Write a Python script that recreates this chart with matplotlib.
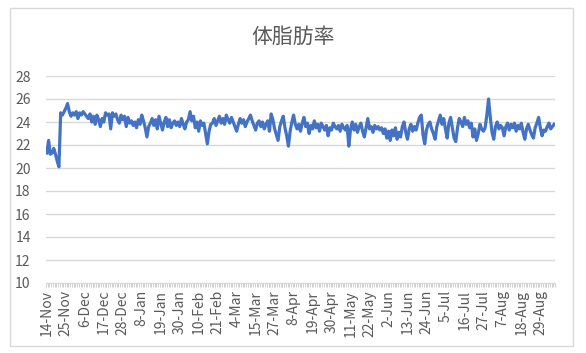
import numpy as np
import pandas as pd
import matplotlib
matplotlib.use('Agg')
from matplotlib import pyplot as plt
from matplotlib.patches import Rectangle
from matplotlib.ticker import FixedLocator

plt.rcParams['font.family'] = ['Noto Sans CJK JP', 'DejaVu Sans']

# body fat % per day
fat = [
    21.3, 22.4, 21.2, 21.3, 21.7, 21.2, 20.6, 20.1, 24.8, 24.6,
    24.9, 25.2, 25.6, 24.9, 24.5, 24.8, 24.6, 24.9, 24.3, 24.8,
    24.6, 24.9, 24.7, 24.5, 24.3, 24.7, 24.0, 24.5, 23.8, 24.6,
    24.2, 23.6, 24.3, 24.0, 24.8, 24.6, 24.7, 23.4, 24.8, 24.5,
    24.7, 24.2, 23.9, 24.6, 24.2, 24.5, 23.6, 24.4, 23.9, 24.1,
    23.7, 24.0, 23.5, 24.2, 23.8, 24.6, 24.1, 23.5, 22.7, 23.6,
    23.9, 24.3, 23.7, 24.2, 23.4, 24.5, 23.9, 23.3, 24.0, 24.4,
    23.6, 24.2, 23.5, 23.9, 24.1, 23.7, 24.0, 23.6, 24.3, 23.8,
    23.4, 24.0, 24.2, 24.9, 24.1, 24.5, 23.5, 24.0, 23.2, 24.1,
    23.7, 23.9, 23.0, 22.1, 23.2, 23.8, 23.9, 24.3, 23.7, 24.1,
    24.5, 23.9, 24.3, 23.8, 24.6, 24.2, 23.9, 24.4, 24.0, 23.6,
    23.2, 23.8, 24.3, 23.9, 24.2, 23.6, 24.0, 24.3, 24.6, 24.1,
    23.7, 23.3, 23.9, 24.1, 23.6, 24.0, 23.4, 23.8, 24.1, 23.2,
    24.7, 24.2, 23.4, 22.9, 22.4, 23.6, 24.1, 24.5, 23.5, 22.8,
    21.9, 23.2, 24.0, 24.6, 23.8, 23.4, 23.8, 23.2, 23.9, 24.4,
    23.6, 23.9, 23.0, 23.7, 23.4, 24.1, 23.5, 23.8, 23.2, 23.9,
    23.6, 23.3, 23.7, 22.8, 23.5, 23.3, 23.9, 23.6, 23.4, 23.7,
    23.2, 23.8, 23.5, 23.3, 23.7, 21.9, 23.4, 24.0, 23.3, 23.8,
    23.1, 23.6, 23.9, 23.2, 22.7, 23.5, 24.3, 23.4, 23.6, 23.1,
    23.7, 23.4, 23.6, 23.3, 23.5, 23.0, 23.4, 22.6, 23.2, 22.4,
    23.3, 22.8, 23.5, 22.5, 23.1, 22.7, 23.6, 24.0, 23.1, 22.5,
    23.4, 23.8, 23.2, 23.6, 23.3, 23.9, 24.4, 24.6, 22.9, 22.1,
    23.3, 23.8, 24.0, 23.4, 23.0, 22.5, 23.6, 24.1, 24.6, 23.8,
    24.3, 23.4, 22.6, 23.9, 24.4, 23.5, 22.6, 22.3, 23.5, 24.3,
    24.0, 23.6, 24.4, 23.8, 24.1, 23.5, 23.9, 22.7, 23.4, 22.4,
    23.0, 23.8, 23.4, 23.2, 23.5, 24.6, 26.0, 24.4, 23.1, 22.5,
    23.6, 24.0, 23.4, 23.7, 23.5, 22.8, 23.6, 23.9, 23.3, 23.8,
    23.5, 23.9, 23.2, 23.7, 23.4, 23.9, 23.1, 22.5, 23.4, 23.8,
    23.3, 22.9, 22.6, 23.5, 23.9, 24.4, 23.5, 22.8, 23.3, 23.2,
    23.6, 23.9, 23.4, 23.6, 23.8,
]

# category dates (two days missing in the data around late March)
missing = ['2019-03-20', '2019-04-01']
days = pd.date_range('2018-11-14', periods=len(fat) + len(missing), freq='D')
days = days[~days.isin(pd.to_datetime(missing))]
labels = [f'{d.day}-{d.strftime("%b")}' for d in days]

tick_every = 11
yticks = list(range(10, 29, 2))

fig = plt.figure(figsize=(5.86, 3.53), dpi=100)
fig.patches.append(Rectangle((10 / 586, 1 - 346 / 353), 563 / 586, 338 / 353,
                             transform=fig.transFigure, fill=False,
                             edgecolor='#d9d9d9', linewidth=1.0))

ax = fig.add_axes([46 / 586, 1 - 283 / 353, 509 / 586, 207 / 353])
x = np.arange(len(fat))
ax.plot(x, fat, color='#4472C4', linewidth=2.3, solid_joinstyle='round')

ax.set_xlim(-0.5, len(fat) - 0.5)
ax.set_ylim(10, 28)
ax.set_yticks(yticks)
ax.set_xticks(x[::tick_every])
ax.set_xticklabels(labels[::tick_every], rotation=90)
ax.xaxis.set_minor_locator(FixedLocator(np.arange(-0.5, len(fat), 1)))

ax.grid(axis='y', color='#d9d9d9', linewidth=1.0)
ax.set_axisbelow(True)
for s in ['top', 'right', 'left']:
    ax.spines[s].set_visible(False)
ax.spines['bottom'].set_color('#d9d9d9')
ax.tick_params(axis='y', length=0, pad=11, labelsize=10, labelcolor='#595959')
ax.tick_params(axis='x', which='major', length=0, pad=5, labelsize=10, labelcolor='#595959')
ax.tick_params(axis='x', which='minor', length=3, width=0.6, color='#c8c8c8')

fig.text(0.5, 1 - 37 / 353, '体脂肪率', ha='center', va='center',
         fontsize=15, color='#595959')

fig.savefig('out.png', dpi=100)
